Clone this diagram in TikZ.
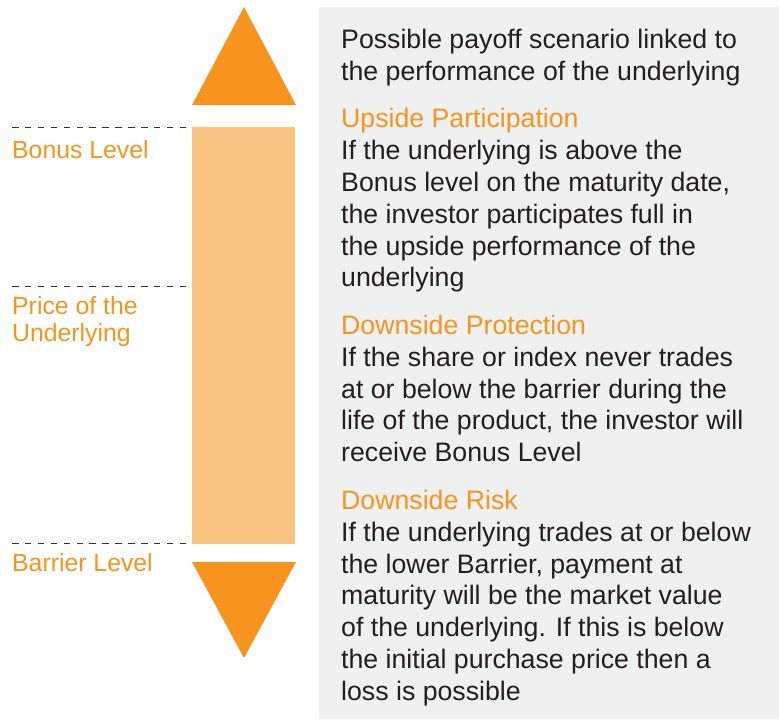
\documentclass[tikz,border=0pt]{standalone}
\usepackage{fontspec}
\setmainfont{Liberation Sans}
\usepackage{tikz}

\definecolor{payorange}{HTML}{F7941E}
\definecolor{paylight}{HTML}{F9C382}
\definecolor{paygray}{HTML}{EFF0F0}
\definecolor{paytext}{HTML}{231F20}
\definecolor{paydash}{HTML}{333333}

\tikzset{
    levellabel/.style={anchor=base west, inner sep=0pt, align=left, text=payorange, font=\fontsize{24.8}{27.4}\selectfont},
    levelline/.style={draw=paydash, line width=1pt, dash pattern=on 6.5pt off 6.4pt},
    infotext/.style={anchor=base west, inner sep=0pt, align=left, text=paytext, font=\fontsize{26.7}{31.8}\selectfont},
}
\newcommand{\payhead}[1]{\textcolor{payorange}{#1}}

\begin{document}
\begin{tikzpicture}[x=1pt, y=-1pt]

    \useasboundingbox (0, 0) rectangle (779, 721);
    \fill [paygray] (319, 7) rectangle (779, 719);
    
    \coordinate (uptop) at (244, 7);
    \coordinate (upleft) at (192, 105);
    \coordinate (upright) at (296, 105);
    \coordinate (downtop) at (244, 658);
    \coordinate (downleft) at (192, 562);
    \coordinate (downright) at (296, 562);
    \fill [payorange] (upleft) -- (uptop) -- (upright) -- cycle;
    \fill [payorange] (downleft) -- (downtop) -- (downright) -- cycle;
    \fill [paylight] (192, 127) rectangle (295, 544);
    
    \coordinate (a) at (12, 127);
    \coordinate (b) at (192, 127);
    \coordinate (c) at (12, 286.5);
    \coordinate (d) at (192, 286.5);
    \coordinate (e) at (12, 543.5);
    \coordinate (f) at (192, 543.5);
    \draw [levelline] (a) -- (b);
    \draw [levelline] (c) -- (d);
    \draw [levelline] (e) -- (f);
    
    \node [levellabel] (bonus) at (12, 158.3) {Bonus Level};
    \node [levellabel] (price) at (12, 341.7) {Price of the\\Underlying};
    \node [levellabel] (barrier) at (12, 571) {Barrier Level};
    
    \node [infotext] (intro) at (341, 80.1) {Possible payoff scenario linked to\\the performance of the underlying};
    \node [infotext] (upside) at (341, 286.8) {\payhead{Upside Participation}\\If the underlying is above the\\Bonus level on the maturity date,\\the investor participates full in\\the upside performance of the\\underlying};
    \node [infotext] (protect) at (341, 461.7) {\payhead{Downside Protection}\\If the share or index never trades\\at or below the barrier during the\\life of the product, the investor will\\receive Bonus Level};
    \node [infotext] (risk) at (341, 700.2) {\payhead{Downside Risk}\\If the underlying trades at or below\\the lower Barrier, payment at\\maturity will be the market value\\of the underlying. If this is below\\the initial purchase price then a\\loss is possible};
    
\end{tikzpicture}
\end{document}
